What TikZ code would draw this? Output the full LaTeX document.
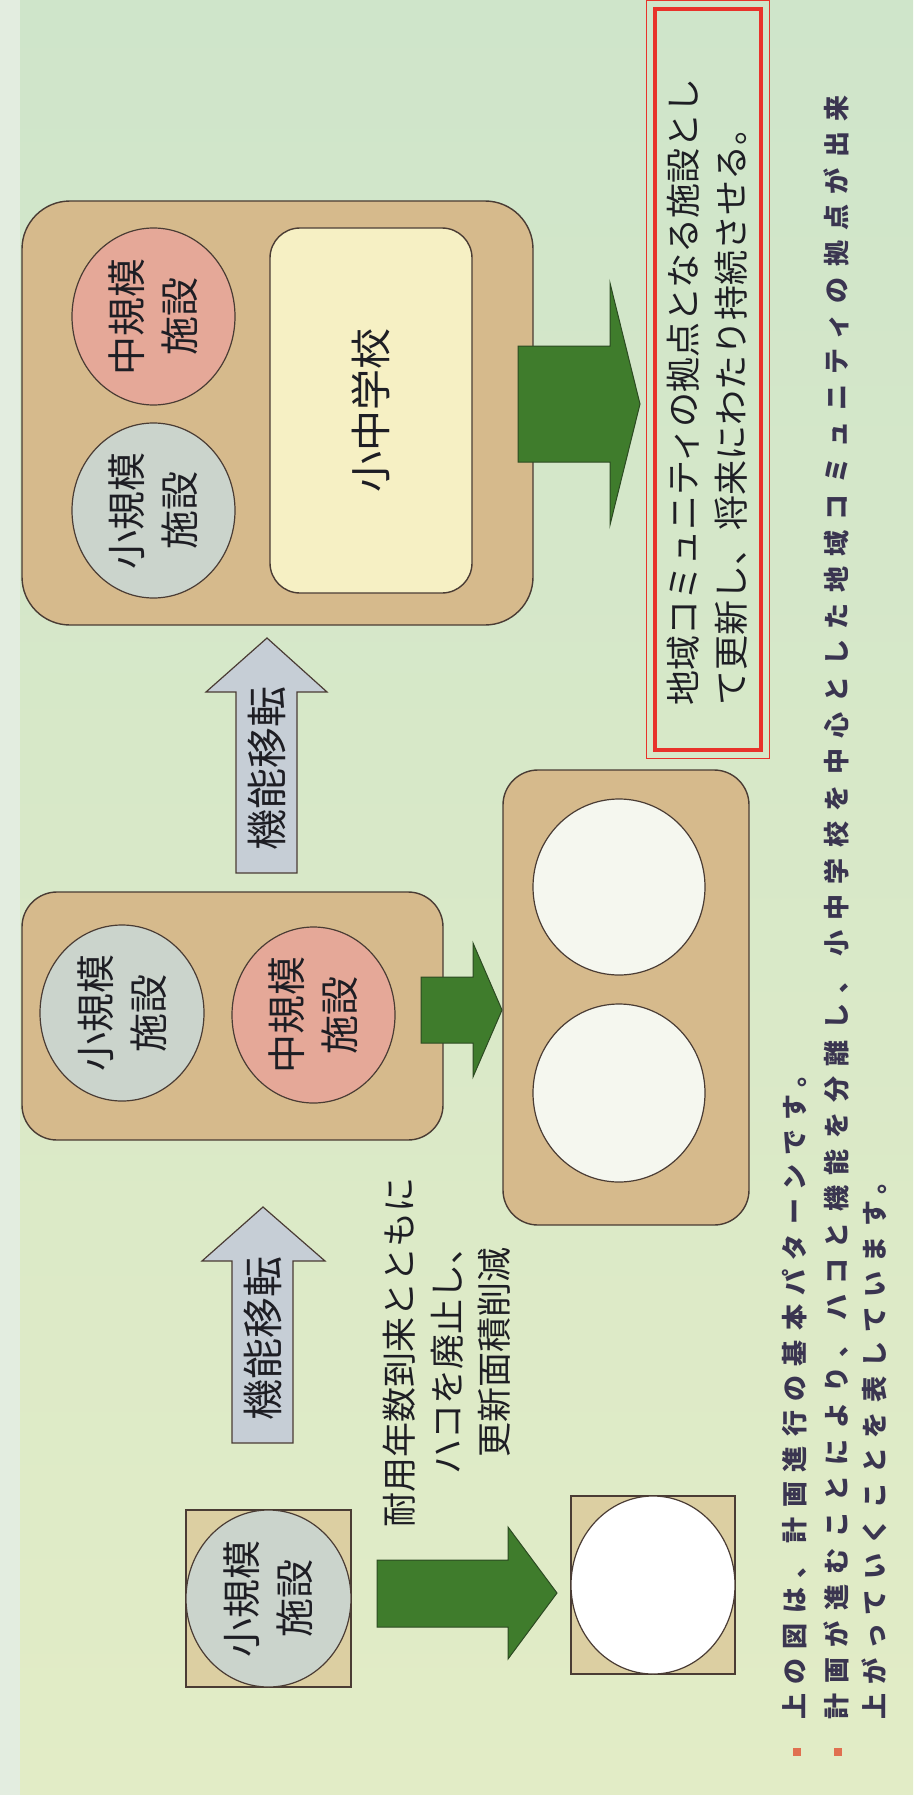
\documentclass[tikz,border=0pt]{standalone}
\usepackage{fontspec}
\setmainfont{Noto Sans CJK JP}
\newfontfamily\bulletfont[LetterSpace=36]{Noto Sans CJK JP}
\newfontfamily\bulletfontw[LetterSpace=40]{Noto Sans CJK JP}
\usetikzlibrary{shapes.geometric}
\definecolor{bgtop}{HTML}{CFE5CA}
\definecolor{bgbot}{HTML}{E2ECC6}
\definecolor{bgstrip}{HTML}{E3EDE0}
\definecolor{edge}{HTML}{4A3C34}
\definecolor{boxtan}{HTML}{D6BA8C}
\definecolor{sqtan}{HTML}{DCCFA2}
\definecolor{cream}{HTML}{F6F0C4}
\definecolor{salmon}{HTML}{E5A898}
\definecolor{graycirc}{HTML}{CBD4CC}
\definecolor{whitecirc}{HTML}{F5F7EF}
\definecolor{arrgreen}{HTML}{3F7C2C}
\definecolor{arrgreenedge}{HTML}{2C4A22}
\definecolor{arrgray}{HTML}{C6CED6}
\definecolor{boxred}{HTML}{E8322A}
\definecolor{txt}{HTML}{1E1E24}
\definecolor{bullettxt}{HTML}{3A3550}
\definecolor{bulletsq}{HTML}{E07050}
\begin{document}
\begin{tikzpicture}[x=1pt,y=-1pt,
  grp/.style={draw=edge, fill=boxtan, line width=1.4pt, rounded corners=#1, inner sep=0pt},
  circ/.style={ellipse, draw=edge, line width=1.2pt, inner sep=0pt, rotate=90, text=txt, align=center, font=\fontsize{39}{53}\selectfont},
  sqbox/.style={draw=edge, fill=sqtan, line width=1.2pt, inner sep=0pt},
  lbl/.style={rotate=90, inner sep=0pt, text=txt},
  greenarrow/.style={fill=arrgreen, draw=arrgreenedge, line width=1pt, line join=miter},
  grayarrow/.style={fill=arrgray, draw=edge, line width=1.2pt, line join=miter},
  bline/.style={rotate=90, anchor=west, inner sep=0pt, text=bullettxt},
  bsq/.style={fill=bulletsq, minimum size=8pt, inner sep=0pt}
]
\useasboundingbox (0,0) rectangle (913,1795);
\shade[top color=bgtop, bottom color=bgbot] (0,0) rectangle (913,1795);
\fill[bgstrip] (0,0) rectangle (20,1795);

% ---- stage C (top) ----
\node[grp=48pt, minimum width=511pt, minimum height=424pt] (stageC) at (277.5,413) {};
\node[draw=edge, fill=cream, line width=1.4pt, rounded corners=30pt, rotate=90,
      minimum width=365pt, minimum height=202pt, inner sep=0pt, text=txt,
      font=\fontsize{41}{41}\selectfont] (school) at (371,410.5) {小中学校};
\node[circ, fill=salmon, minimum width=177pt, minimum height=163pt] (midC) at (153.5,316.5) {中規模\\施設};
\node[circ, fill=graycirc, minimum width=175pt, minimum height=163pt] (smallC) at (153.5,510.5) {小規模\\施設};

% ---- stage B (middle) ----
\node[grp=35pt, minimum width=421pt, minimum height=248pt] (stageB) at (232.5,1016) {};
\node[circ, fill=graycirc, minimum width=176pt, minimum height=164pt] (smallB) at (122,1013) {小規模\\施設};
\node[circ, fill=salmon, minimum width=176pt, minimum height=163pt] (midB) at (313.5,1015) {中規模\\施設};

\node[grp=35pt, minimum width=246pt, minimum height=455pt] (emptyB) at (626,997.5) {};
\node[circ, fill=whitecirc, minimum width=176pt, minimum height=172pt] (freeB1) at (619,887) {};
\node[circ, fill=whitecirc, minimum width=178pt, minimum height=172pt] (freeB2) at (619,1093) {};

% ---- stage A (bottom) ----
\node[sqbox, minimum width=165pt, minimum height=177pt] (sqA) at (268.5,1598.5) {};
\node[circ, fill=graycirc, minimum width=177pt, minimum height=165pt] (smallA) at (sqA) {小規模\\施設};
\node[sqbox, minimum width=164pt, minimum height=178pt] (sqA2) at (653,1585) {};
\node[circ, fill=white, minimum width=178pt, minimum height=164pt] (freeA) at (sqA2) {};

% ---- green arrows ----
\draw[greenarrow] (518,346) -- (610,346) -- (610,283) -- (640,404) -- (610,525) -- (610,462) -- (518,462) -- cycle;
\draw[greenarrow] (421,977) -- (473,977) -- (473,943) -- (502,1010) -- (473,1077) -- (473,1043) -- (421,1043) -- cycle;
\draw[greenarrow] (377,1560) -- (508,1560) -- (508,1527) -- (557,1593) -- (508,1659) -- (508,1627) -- (377,1627) -- cycle;

% ---- gray arrows ----
\draw[grayarrow] (236,873) -- (236,692) -- (206,692) -- (267,638) -- (327,692) -- (297,692) -- (297,873) -- cycle;
\draw[grayarrow] (232,1443) -- (232,1261) -- (202,1261) -- (263,1207) -- (325,1261) -- (293,1261) -- (293,1443) -- cycle;
\node[lbl, font=\fontsize{41}{41}\selectfont] (moveC) at (267,768) {機能移転};
\node[lbl, font=\fontsize{41}{41}\selectfont] (moveB) at (263,1338) {機能移転};

% ---- note ----
\node[lbl, align=center, font=\fontsize{35}{47.5}\selectfont] (note) at (447,1352) {耐用年数到来とともに\\ハコを廃止し、\\更新面積削減};

% ---- goal box ----
\node[draw=boxred, line width=4.5pt, minimum width=106pt, minimum height=741pt, inner sep=0pt] (goal) at (708,379.5) {};
\draw[boxred, line width=1.2pt] ([xshift=-6pt,yshift=6pt]goal.north west) rectangle ([xshift=6pt,yshift=-6pt]goal.south east);
\node[lbl, anchor=west, font=\fontsize{35}{35}\selectfont] (goal1) at (683,706) {地域コミュニティの拠点となる施設とし};
\node[lbl, anchor=west, font=\fontsize{35}{35}\selectfont] (goal2) at (731,706) {て更新し、将来にわたり持続させる。};

% ---- bullets ----
\node[bsq] (bul1) at (797,1752) {};
\node[bsq] (bul2) at (838,1752) {};
\node[bline, font=\bulletfont\bfseries\fontsize{26}{26}\selectfont] (b1) at (795,1720) {上の図は、計画進行の基本パターンです。};
\node[bline, font=\bulletfontw\bfseries\fontsize{26}{26}\selectfont] (b2) at (836,1720) {計画が進むことにより、ハコと機能を分離し、小中学校を中心とした地域コミュニティの拠点が出来};
\node[bline, font=\bulletfont\bfseries\fontsize{26}{26}\selectfont] (b3) at (874,1720) {上がっていくことを表しています。};
\end{tikzpicture}
\end{document}
